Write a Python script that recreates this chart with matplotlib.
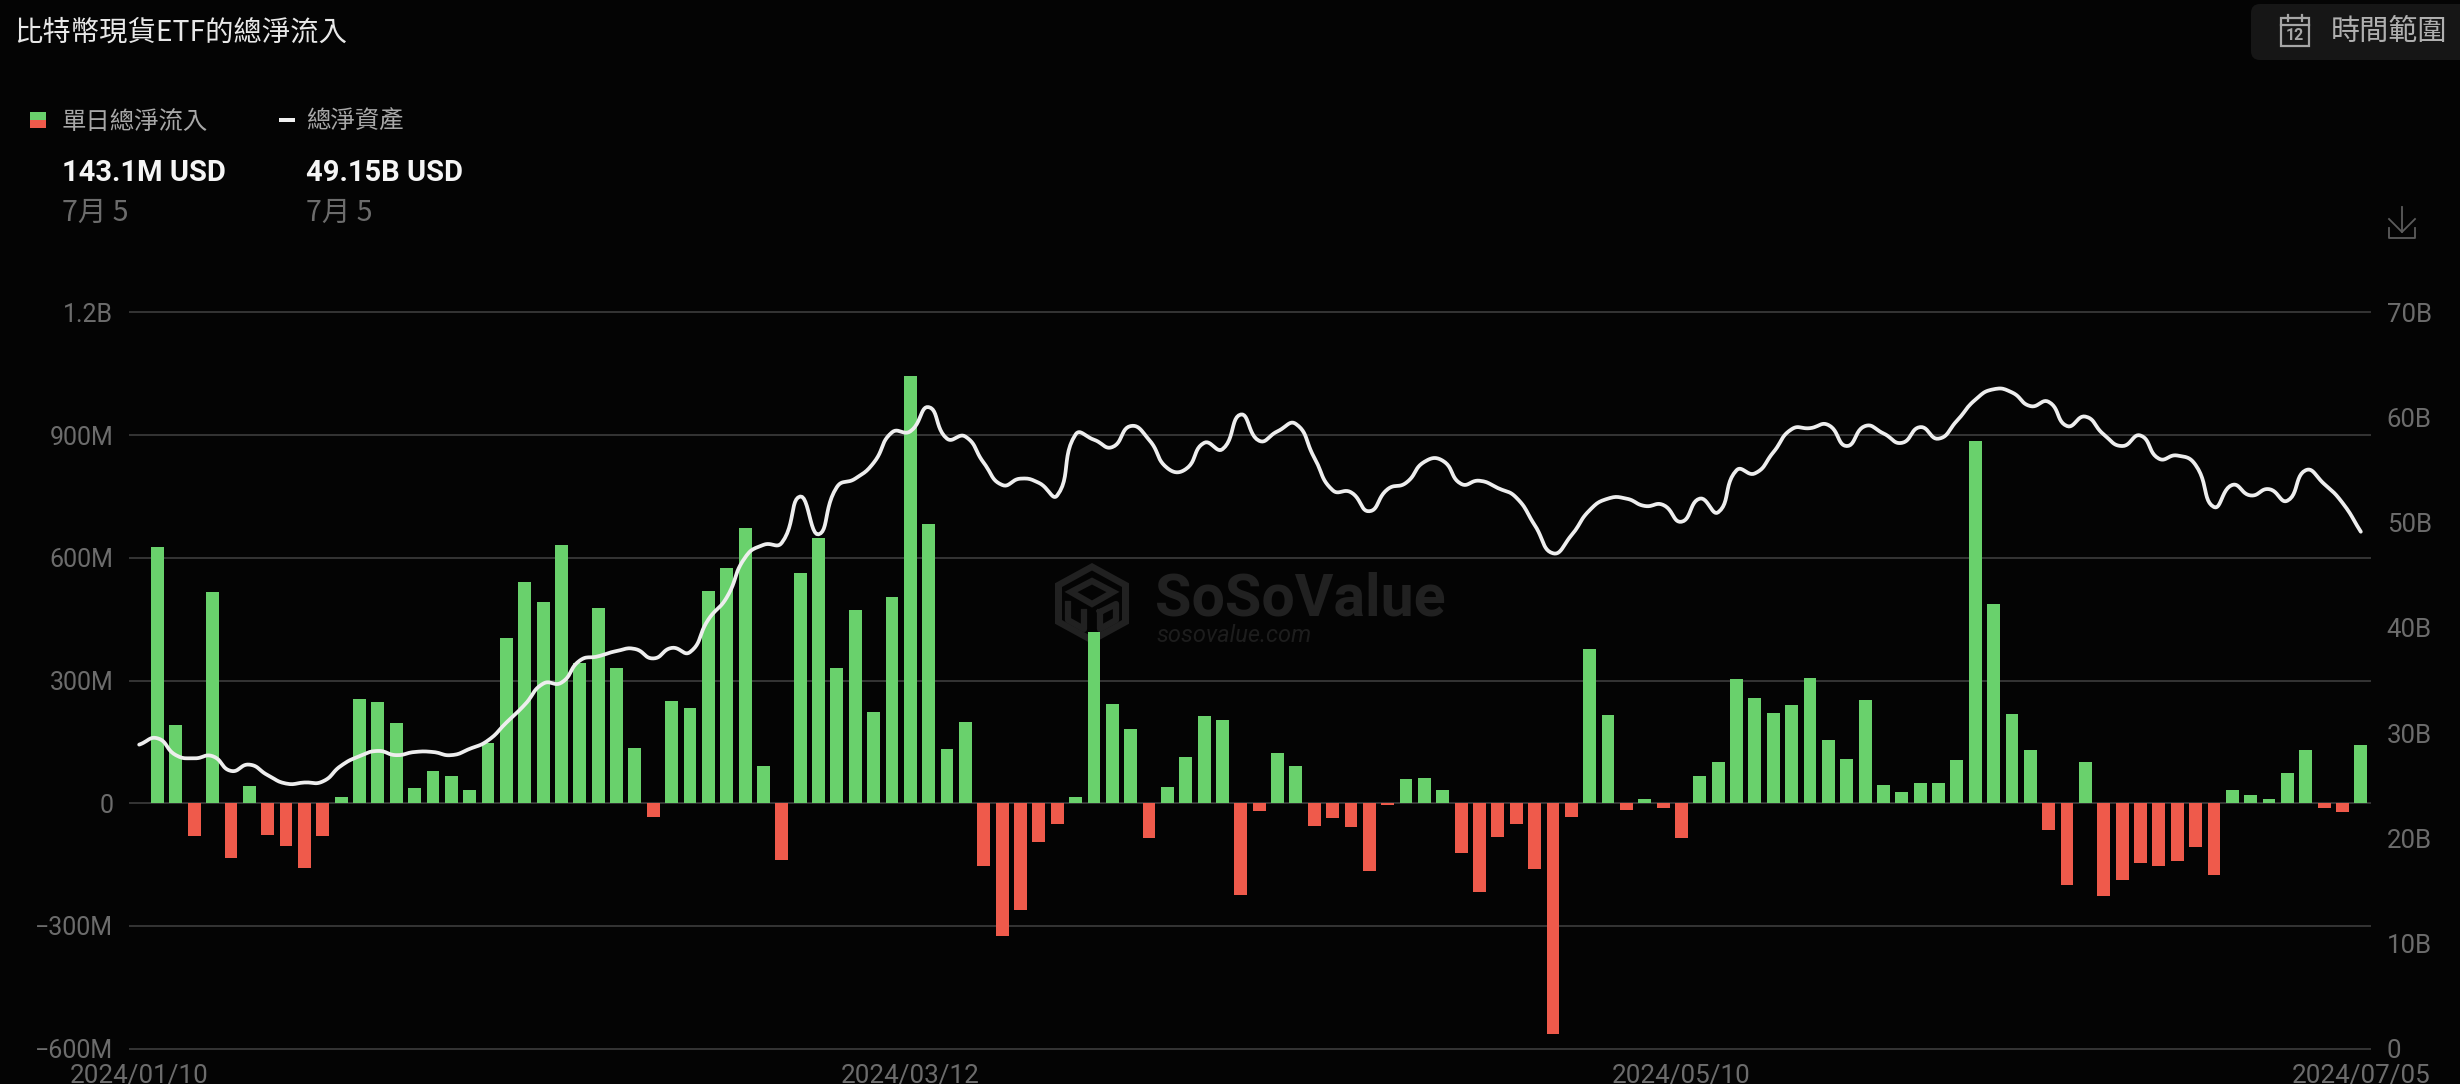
import numpy as np
import matplotlib
matplotlib.use("Agg")
import matplotlib.pyplot as plt
from matplotlib.patches import Rectangle, FancyBboxPatch, Polygon

# ---------- data ----------
tick_index = [0, 42, 84, 121]
tick_labels = ["2024/01/10", "2024/03/12", "2024/05/10", "2024/07/05"]
left_ticks = [-600, -300, 0, 300, 600, 900, 1200]
left_labels = ["−600M", "−300M", "0", "300M", "600M", "900M", "1.2B"]
right_ticks = [0, 10, 20, 30, 40, 50, 60, 70]
right_labels = ["0", "10B", "20B", "30B", "40B", "50B", "60B", "70B"]

net_flow = [np.nan,
    627, 191, -81, 517, -134, 42, -78, -105, -159, -80,
    15, 254, 247, 197, 38, 79, 67, 33, 147, 405,
    541, 493, 631, 342, 477, 331, 136, -35, 251, 232,
    520, 576, 672, 92, -139, 562, 648, 331, 472, 222,
    505, 1045, 683, 132, 199, -154, -326, -262, -94, -51,
    16, 418, 243, 182, -86, 39, 114, 213, 203, -224,
    -20, 123, 90, -55, -37, -59, -165, -5, 59, 61,
    32, -121, -218, -83, -51, -161, -564, -34, 378, 216,
    -16, 11, -11, -84, 66, 100, 303, 257, 221, 241,
    306, 154, 108, 252, 45, 28, 49, 49, 105, 886,
    488, 218, 131, -65, -200, 101, -226, -189, -147, -153,
    -141, -106, -175, 31, 21, 11, 73, 130, -13, -21, 143.1]

net_assets = [
    28.9, 29.5, 27.9, 27.6, 27.8, 26.4, 27.0, 26.0, 25.2, 25.3, 25.4,
    26.9, 27.8, 28.3, 27.9, 28.2, 28.2, 27.9, 28.5, 29.3, 31.0,
    32.7, 34.7, 34.8, 36.9, 37.3, 37.8, 38.0, 37.1, 38.1, 37.7,
    40.8, 42.9, 46.7, 47.9, 48.1, 52.5, 48.9, 53.4, 54.2, 55.7,
    58.6, 58.7, 61.0, 58.0, 58.2, 55.7, 53.6, 54.2, 53.8, 52.6,
    58.4, 57.9, 57.2, 59.2, 57.9, 55.2, 55.1, 57.6, 57.0, 60.3,
    57.8, 58.7, 59.4, 56.2, 53.1, 52.9, 51.1, 53.2, 53.8, 55.8,
    55.9, 53.7, 54.0, 53.3, 52.4, 49.8, 47.1, 48.8, 51.2, 52.3,
    52.3, 51.6, 51.7, 50.1, 52.3, 51.0, 55.0, 54.7, 56.7, 58.9,
    59.0, 59.3, 57.3, 59.2, 58.5, 57.6, 59.1, 58.0, 59.7, 61.7,
    62.7, 62.4, 61.1, 61.5, 59.2, 60.1, 58.4, 57.3, 58.3, 56.1,
    56.4, 55.5, 51.5, 53.6, 52.6, 53.2, 52.1, 55.0, 53.7, 51.9, 49.15]

# ---------- style ----------
BG = "#040404"
GRID = "#353535"
MUTED = "#6c6c6c"
GREEN = "#69d16c"
RED = "#ef5a4b"
LINE = "#eeeeee"
WM = "#212121"
W, H = 2460, 1084
FONT = ["Roboto", "Noto Sans CJK TC", "DejaVu Sans"]
CJK = ["Noto Sans CJK TC", "DejaVu Sans"]
plt.rcParams["font.family"] = FONT

fig = plt.figure(figsize=(W / 100, H / 100), dpi=100, facecolor=BG)

# pixel-coordinate layer for page furniture
bg = fig.add_axes([0, 0, 1, 1], zorder=0)
bg.set_xlim(0, W)
bg.set_ylim(H, 0)
bg.axis("off")

ax = fig.add_axes([130 / W, 1 - 1048.5 / H, 2240 / W, 736 / H], zorder=1)
ax.patch.set_alpha(0)
x = np.arange(len(net_flow))
flow = np.array(net_flow, float)
ax.bar(x, flow, width=0.70, color=[GREEN if v >= 0 else RED for v in np.nan_to_num(flow)], zorder=2)
ax.set_xlim(-0.5, len(net_flow) - 0.5)
ax.set_ylim(-600, 1200)
ax.set_yticks(left_ticks, left_labels)
ax.set_xticks(tick_index, tick_labels)
ax.set_axisbelow(True)
ax.grid(axis="y", color=GRID, lw=1.4)
ax.grid(axis="x", visible=False)
for gl in ax.get_ygridlines():
    gl.set_clip_on(False)
for s in ax.spines.values():
    s.set_visible(False)
ax.tick_params(axis="y", length=0, pad=12, labelcolor=MUTED, labelsize=18)
ax.tick_params(axis="x", length=0, pad=11, labelcolor=MUTED, labelsize=18.7)

ax2 = ax.twinx()
ax2.set_zorder(2)
ax2.patch.set_alpha(0)
ax2.set_ylim(0, 70)
ax2.set_yticks(right_ticks, right_labels)
ax2.tick_params(axis="y", length=0, pad=12, labelcolor=MUTED, labelsize=18.5)
for s in ax2.spines.values():
    s.set_visible(False)

# smooth curve through the values, as a cubic Bezier spline between data points
y = np.array(net_assets)
sx, sy = 18.36, 10.51          # px per unit, for the smoothing distance ratio
smooth = 0.5
n = len(y)
cp_out = np.zeros((n, 2))
cp_in = np.zeros((n, 2))
for i in range(n):
    p = np.array([x[i], y[i]], float)
    prev_p = np.array([x[max(i - 1, 0)], y[max(i - 1, 0)]], float)
    next_p = np.array([x[min(i + 1, n - 1)], y[min(i + 1, n - 1)]], float)
    scale = np.array([sx, sy])
    l0 = np.linalg.norm((p - prev_p) * scale)
    l1 = np.linalg.norm((next_p - p) * scale)
    r = l1 / (l0 + l1) if l0 + l1 else 0.5
    v = next_p - prev_p
    cp_out[i] = p + v * smooth * r
    cp_in[i] = p - v * smooth * (1 - r)
t = np.linspace(0, 1, 12, endpoint=False)[:, None]
curve = []
for i in range(n - 1):
    p0 = np.array([x[i], y[i]], float)
    p3 = np.array([x[i + 1], y[i + 1]], float)
    curve.append((1 - t) ** 3 * p0 + 3 * (1 - t) ** 2 * t * cp_out[i]
                 + 3 * (1 - t) * t ** 2 * cp_in[i + 1] + t ** 3 * p3)
curve.append(np.array([[x[-1], y[-1]]], float))
curve = np.vstack(curve)
ax2.plot(curve[:, 0], curve[:, 1], color=LINE, lw=2.7, solid_capstyle="round", zorder=3)

# ---------- header text ----------
def px(xp, yp, s, size, color="#e6e6e6", family=FONT, **kw):
    kw.setdefault("va", "center")
    kw.setdefault("ha", "left")
    bg.text(xp, yp, s, fontsize=size, color=color, family=family, **kw)

px(14, 33, "比特幣現貨ETF的總淨流入", 20.4, "#e8e8e8", CJK)

bg.add_patch(Rectangle((30, 112), 16, 8, color=GREEN, lw=0))
bg.add_patch(Rectangle((30, 120), 16, 8, color=RED, lw=0))
px(62, 122, "單日總淨流入", 17.6, "#a8a8a8", CJK)
bg.add_patch(Rectangle((279, 118), 16, 4, color="#f0f0f0", lw=0))
px(306, 122, "總淨資產", 17.6, "#a8a8a8", CJK)
px(62, 173, "143.1M USD", 21, "#f5f5f5", FONT, fontweight="bold")
px(306, 173, "49.15B USD", 21, "#f5f5f5", FONT, fontweight="bold")
px(62, 213, "7月 5", 20.5, MUTED, CJK)
px(306, 213, "7月 5", 20.5, MUTED, CJK)

# time-range button
bg.add_patch(FancyBboxPatch((2251, 4), 260, 56, boxstyle="round,pad=0,rounding_size=9",
                            fc="#161616", ec="none"))
ICON = "#a6a6a6"
bg.add_patch(Rectangle((2281, 18), 28, 28, fc="none", ec=ICON, lw=1.6))
bg.plot([2281, 2309], [25, 25], color=ICON, lw=1.6)
bg.plot([2288, 2288], [15, 21], color=ICON, lw=1.6)
bg.plot([2302, 2302], [15, 21], color=ICON, lw=1.6)
px(2295, 36, "12", 11.5, ICON, FONT, ha="center", fontweight="bold")
px(2331, 32, "時間範圍", 21, "#b0b0b0", CJK, fontweight="medium")

# download icon
DL = "#5c5c5c"
bg.plot([2402, 2402], [207, 232], color=DL, lw=1.3)
bg.plot([2389, 2402, 2415], [219, 232, 219], color=DL, lw=1.3)
bg.plot([2389, 2389, 2415, 2415], [228, 238, 238, 228], color=DL, lw=1.3)

# watermark
hex_t = np.deg2rad(np.arange(6) * 60 + 30)
hex_unit = np.c_[np.cos(hex_t) / np.cos(np.deg2rad(30)), np.sin(hex_t)]
bg.add_patch(Polygon(np.array([1092, 603.5]) + hex_unit * [37, 40.5], fc=WM, ec="none", zorder=0.5))
bg.add_patch(Polygon(np.array([1092, 603.5]) + hex_unit * [30, 33], fc=BG, ec="none", zorder=0.6))
bg.add_patch(Polygon([[1092, 581], [1113, 592], [1092, 604], [1071, 592]], fc="none", ec=WM, lw=4.5, zorder=0.7))
bg.plot([1068, 1068, 1084, 1084], [604, 620, 629, 612], color=WM, lw=4.5, zorder=0.7)
bg.plot([1100, 1100, 1116, 1116, 1100], [612, 629, 620, 604, 612], color=WM, lw=4.5, zorder=0.7)
px(1155, 615, "SoSoValue", 42.6, WM, FONT, fontweight="bold", va="baseline", zorder=0.8)
px(1156, 642, "sosovalue.com", 17, "#1d1d1d", FONT, style="italic", va="baseline", zorder=0.8)

fig.savefig("out.png", dpi=100, facecolor=BG)
